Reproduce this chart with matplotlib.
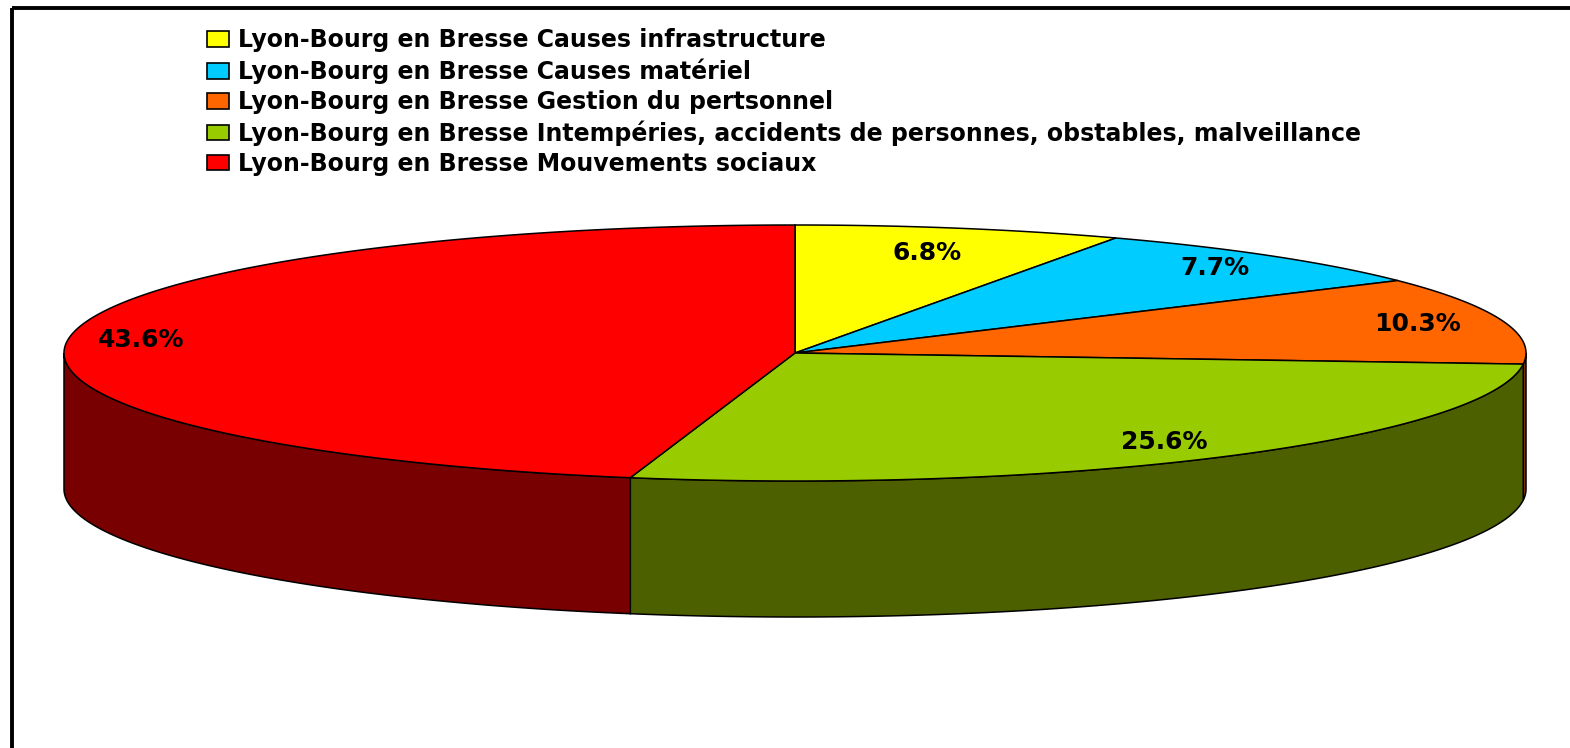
import numpy as np
from matplotlib import pyplot as plt
from matplotlib.patches import Polygon, Rectangle, Patch

plt.rcParams['font.family'] = ['DejaVu Sans']

labels = ["Lyon-Bourg en Bresse Causes infrastructure",
          "Lyon-Bourg en Bresse Causes matériel",
          "Lyon-Bourg en Bresse Gestion du pertsonnel",
          "Lyon-Bourg en Bresse Intempéries, accidents de personnes, obstables, malveillance",
          "Lyon-Bourg en Bresse Mouvements sociaux"]
values = [6.8, 7.7, 10.3, 25.6, 43.6]
top_colors = ['#FFFF00', '#00CCFF', '#FF6600', '#99CC00', '#FF0000']
side_colors = ['#808000', '#006680', '#803300', '#4C6000', '#780000']
lab_r = [0.80, 0.88, 0.88, 0.86, 0.90]

# ellipse geometry (pixels)
cx, cy, a, b, depth = 795, 353, 731, 128, 136

fig = plt.figure(figsize=(15.7, 7.48), dpi=100)
ax = fig.add_axes([0, 0, 1, 1])
ax.set_xlim(0, 1570)
ax.set_ylim(748, 0)
ax.axis('off')


def pt(th, dy=0):
    # th: degrees clockwise from 12 o'clock
    t = np.radians(th)
    return cx + a * np.sin(t), cy - b * np.cos(t) + dy


total = sum(values)
bounds = np.concatenate([[0], np.cumsum(values) / total * 360])

# side walls (front half only: 90..270)
for i in range(len(values)):
    s, e = max(bounds[i], 90), min(bounds[i + 1], 270)
    if e <= s:
        continue
    th = np.linspace(s, e, 200)
    xs, ys = pt(th)
    xb, yb = pt(th[::-1], depth)
    poly = np.column_stack([np.r_[xs, xb], np.r_[ys, yb]])
    ax.add_patch(Polygon(poly, closed=True, fc=side_colors[i], ec='black', lw=1.1, zorder=2))

# top faces
for i in range(len(values)):
    th = np.linspace(bounds[i], bounds[i + 1], 300)
    xs, ys = pt(th)
    poly = np.column_stack([np.r_[cx, xs], np.r_[cy, ys]])
    ax.add_patch(Polygon(poly, closed=True, fc=top_colors[i], ec='black', lw=1.1, zorder=3))

# percentage labels
for i, v in enumerate(values):
    mid = np.radians((bounds[i] + bounds[i + 1]) / 2)
    x = cx + lab_r[i] * a * np.sin(mid)
    y = cy - lab_r[i] * b * np.cos(mid)
    ax.text(x, y, "{:.1f}%".format(v), ha='center', va='center',
            fontsize=18, fontweight='bold', zorder=5)

handles = [Patch(fc=c, ec='black', lw=1.2) for c in top_colors]
leg = ax.legend(handles, labels, loc='upper left', bbox_to_anchor=(0.1318, 0.962),
                frameon=False, prop={'size': 17, 'weight': 'bold'},
                handlelength=0.93, handleheight=0.64, handletextpad=0.38,
                labelspacing=0.26, borderaxespad=0, borderpad=0)

# outer frame
ax.add_patch(Rectangle((11.5, 7.5), 1700, 900, fill=False, ec='black', lw=2.8, clip_on=False))

plt.savefig('out.png', dpi=100)
